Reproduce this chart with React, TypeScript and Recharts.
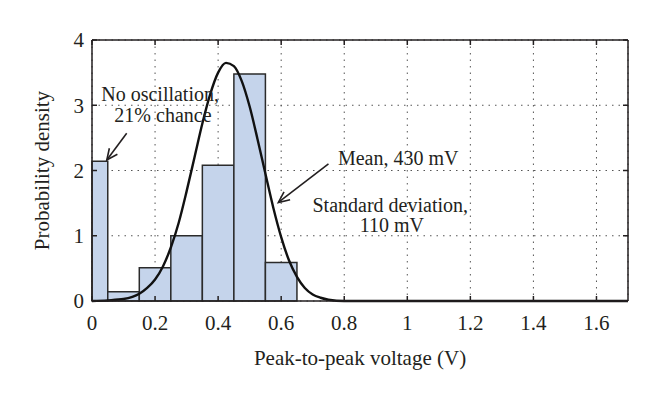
import React from 'react';
import {
  ComposedChart,
  Line,
  XAxis,
  YAxis,
  CartesianGrid,
  ReferenceArea,
  ReferenceLine,
  ReferenceDot,
} from 'recharts';

// Histogram bins (V) and their probability density
const binStart = [0, 0.05, 0.15, 0.25, 0.35, 0.45, 0.55];
const binEnd = [0.05, 0.15, 0.25, 0.35, 0.45, 0.55, 0.65];
const binDensity = [2.14, 0.14, 0.51, 1.0, 2.08, 3.48, 0.59];

// Fitted density curve
const curveX = [
  0, 0.05, 0.1, 0.15, 0.175, 0.2, 0.225, 0.25, 0.275, 0.3, 0.325, 0.35, 0.375, 0.4, 0.425, 0.45, 0.475, 0.5,
  0.525, 0.55, 0.575, 0.6, 0.625, 0.65, 0.675, 0.7, 0.725, 0.75, 0.8, 0.9, 1.7,
];
const curveY = [
  0, 0.01, 0.03, 0.11, 0.2, 0.33, 0.53, 0.82, 1.2, 1.68, 2.2, 2.72, 3.17, 3.5, 3.65, 3.6, 3.37, 2.98, 2.48, 1.95,
  1.43, 0.98, 0.62, 0.37, 0.2, 0.1, 0.05, 0.02, 0, 0, 0,
];

const xTicks = [0, 0.2, 0.4, 0.6, 0.8, 1, 1.2, 1.4, 1.6];
const yTicks = [0, 1, 2, 3, 4];

// Text annotations (anchor = middle of baseline, in data units)
const noteText = ['No oscillation,', '21% chance', 'Mean, 430 mV', 'Standard deviation,', '110 mV'];
const noteX = [0.216, 0.225, 0.971, 0.946, 0.951];
const noteY = [3.06, 2.75, 2.08, 1.37, 1.06];

// Arrows: tail -> tip
const arrowFromX = [0.11, 0.75];
const arrowFromY = [2.57, 2.1];
const arrowToX = [0.047, 0.591];
const arrowToY = [2.16, 1.51];

const FONT = '"Liberation Serif", "Times New Roman", serif';
const INK = '#231f20';
const BAR_FILL = '#c5d4eb';

const data = curveX.map((x, i) => ({ x, y: curveY[i] }));

function Arrow(props: any) {
  const { x1, y1, x2, y2 } = props;
  if ([x1, y1, x2, y2].some((v) => typeof v !== 'number')) return null;
  const dx = x2 - x1;
  const dy = y2 - y1;
  const len = Math.hypot(dx, dy) || 1;
  const ux = dx / len;
  const uy = dy / len;
  const head = 11;
  const half = 5;
  const bx = x2 - ux * head;
  const by = y2 - uy * head;
  return (
    <g>
      <line x1={x1} y1={y1} x2={x2} y2={y2} stroke={INK} strokeWidth={1.6} />
      <polyline
        points={`${bx - uy * half},${by + ux * half} ${x2},${y2} ${bx + uy * half},${by - ux * half}`}
        fill="none"
        stroke={INK}
        strokeWidth={1.6}
      />
    </g>
  );
}

function NoteText(text: string) {
  return (props: any) => (
    <text x={props.cx} y={props.cy} textAnchor="middle" fontFamily={FONT} fontSize={20} fill={INK}>
      {text}
    </text>
  );
}

export default function App() {
  return (
    <div style={{ position: 'absolute', left: 0, top: 0, width: 660, height: 395, background: '#fff' }}>
      <ComposedChart width={660} height={395} data={data} margin={{ top: 39, right: 31, bottom: 34, left: 0 }}>
        <CartesianGrid stroke="#555" strokeDasharray="1.5 5" />
        <XAxis
          dataKey="x"
          type="number"
          domain={[0, 1.7]}
          ticks={xTicks}
          allowDataOverflow
          height={60}
          stroke={INK}
          strokeWidth={1.5}
          tickSize={-5}
          tickMargin={19}
          tick={{ fontFamily: FONT, fontSize: 21, fill: INK }}
          label={(p: any) => {
            const vb = p.viewBox;
            return (
              <text x={vb.x + vb.width / 2} y={vb.y + 64} textAnchor="middle" fontFamily={FONT} fontSize={21} fill={INK}>
                Peak-to-peak voltage (V)
              </text>
            );
          }}
        />
        <XAxis
          xAxisId="top"
          orientation="top"
          dataKey="x"
          type="number"
          domain={[0, 1.7]}
          ticks={xTicks}
          allowDataOverflow
          height={1}
          stroke={INK}
          strokeWidth={1.5}
          tickSize={-5}
          tick={() => <g />}
        />
        <YAxis
          type="number"
          domain={[0, 4]}
          ticks={yTicks}
          width={92}
          stroke={INK}
          strokeWidth={1.5}
          tickSize={-5}
          tickMargin={13}
          tick={{ fontFamily: FONT, fontSize: 21, fill: INK }}
          label={(p: any) => {
            const vb = p.viewBox;
            const cy = vb.y + vb.height / 2;
            return (
              <text
                x={42}
                y={cy}
                transform={`rotate(-90, 42, ${cy})`}
                textAnchor="middle"
                dominantBaseline="central"
                fontFamily={FONT}
                fontSize={21}
                fill={INK}
              >
                Probability density
              </text>
            );
          }}
        />
        <YAxis
          yAxisId="right"
          orientation="right"
          type="number"
          domain={[0, 4]}
          ticks={yTicks}
          allowDataOverflow
          width={1}
          stroke={INK}
          strokeWidth={1.5}
          tickSize={-5}
          tick={() => <g />}
        />
        {binStart.map((s, i) => (
          <ReferenceArea
            key={`bin-${i}`}
            x1={s}
            x2={binEnd[i]}
            y1={0}
            y2={binDensity[i]}
            fill={BAR_FILL}
            fillOpacity={1}
            stroke="#2b2b2b"
            strokeWidth={1.5}
          />
        ))}
        {/* invisible twin so the top/right frame axes are active */}
        <Line
          xAxisId="top"
          yAxisId="right"
          dataKey="y"
          stroke="none"
          dot={false}
          activeDot={false}
          isAnimationActive={false}
        />
        <Line
          dataKey="y"
          type="monotone"
          stroke="#111"
          strokeWidth={2.4}
          dot={false}
          activeDot={false}
          isAnimationActive={false}
        />
        {arrowFromX.map((fx, i) => (
          <ReferenceLine
            key={`arrow-${i}`}
            segment={[
              { x: fx, y: arrowFromY[i] },
              { x: arrowToX[i], y: arrowToY[i] },
            ]}
            shape={Arrow}
          />
        ))}
        {noteText.map((t, i) => (
          <ReferenceDot key={`note-${i}`} x={noteX[i]} y={noteY[i]} r={0} shape={NoteText(t)} />
        ))}
      </ComposedChart>
    </div>
  );
}
